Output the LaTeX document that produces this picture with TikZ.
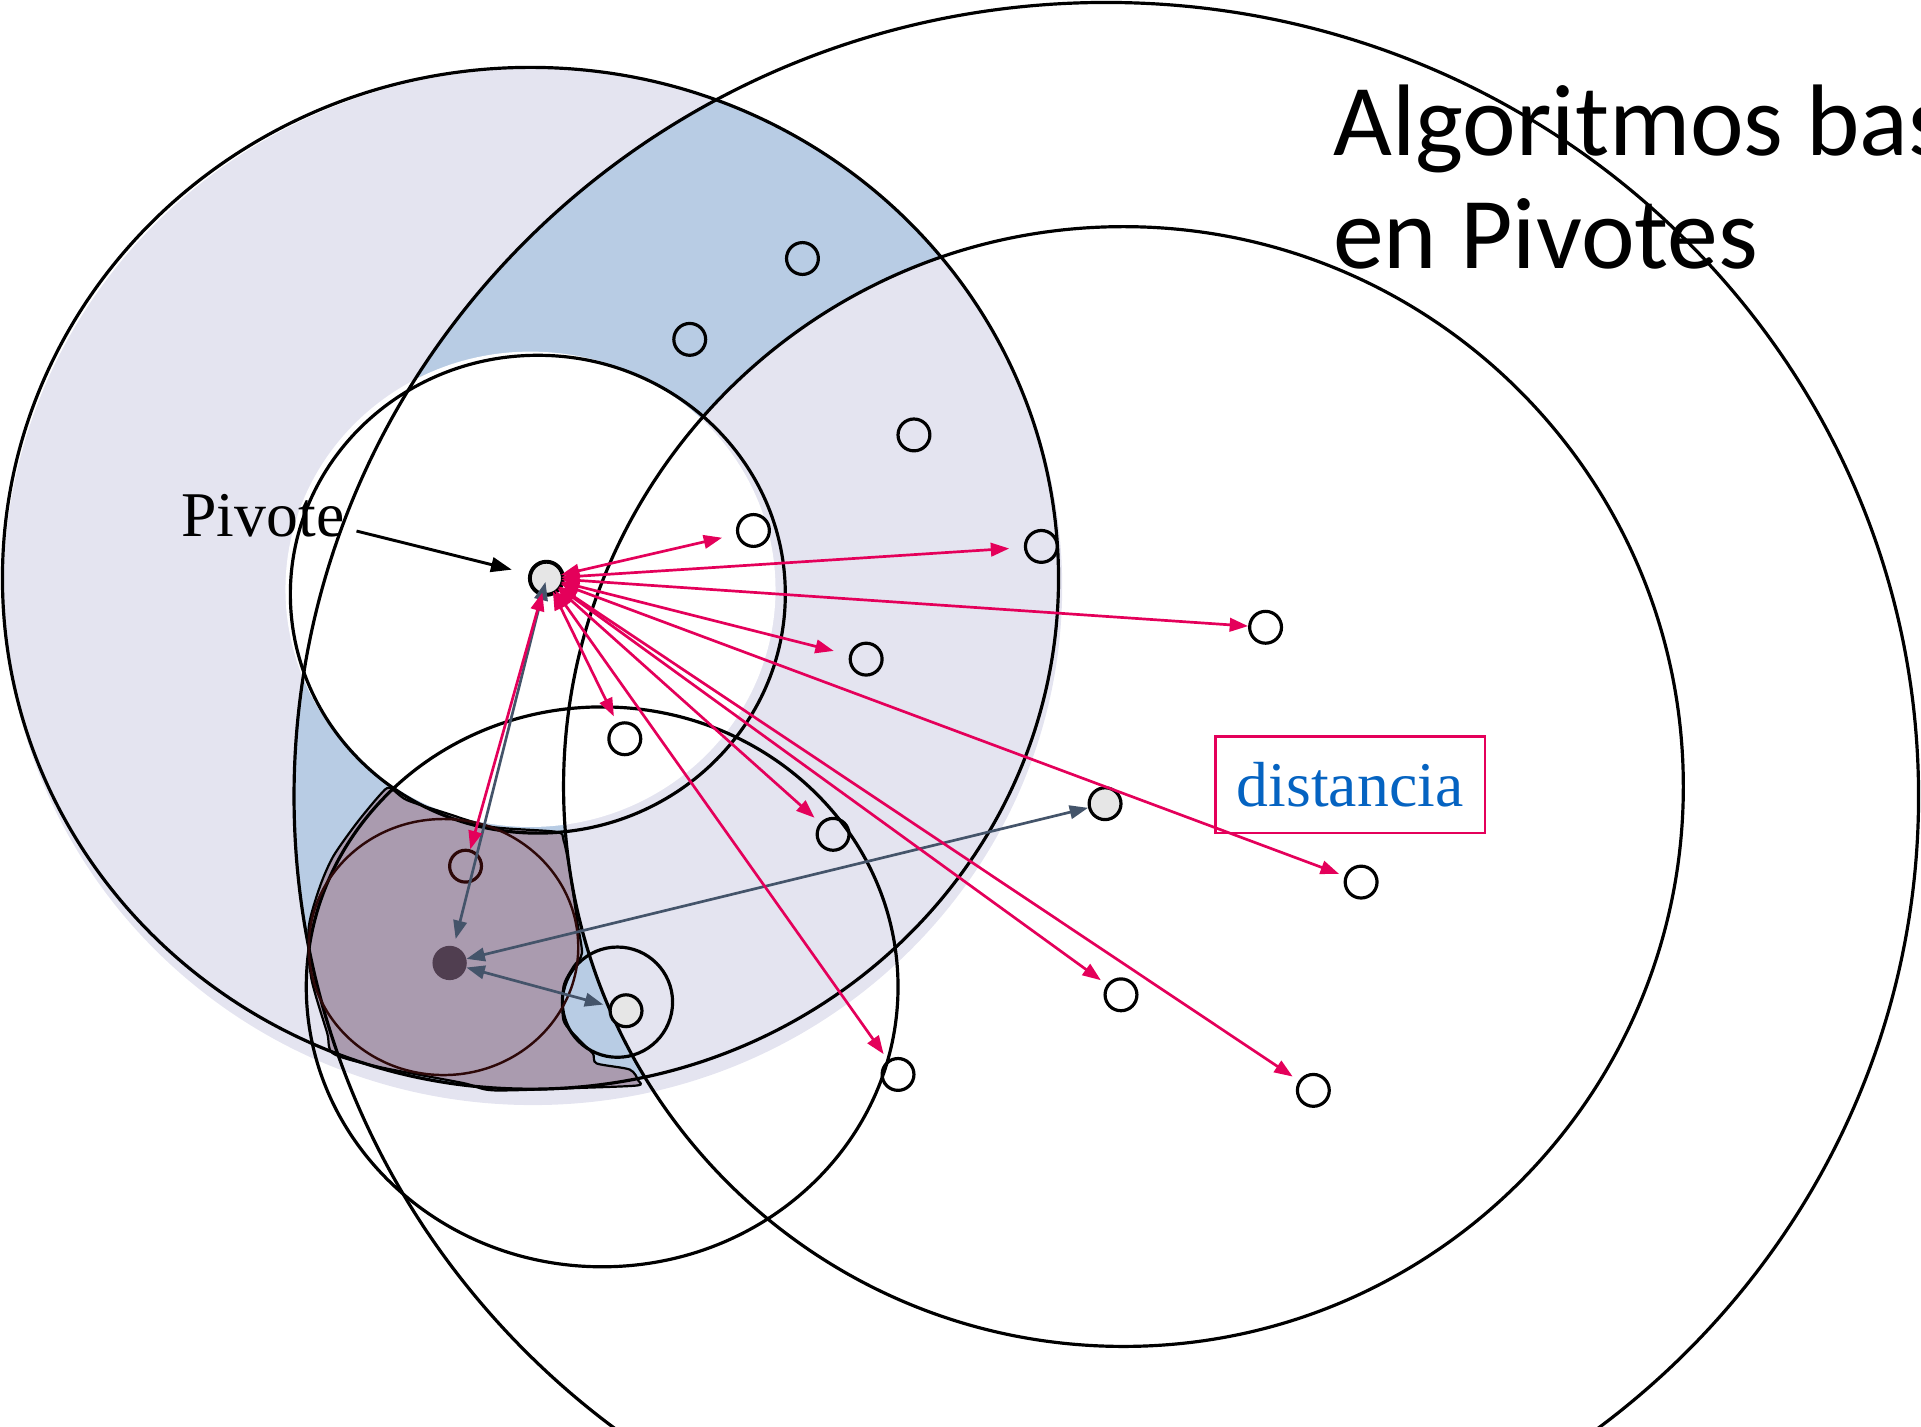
\documentclass[tikz,border=0pt]{standalone}
\usepackage{fontspec}
\setmainfont{Liberation Serif}
\newfontfamily\titlefont{Carlito}
\usetikzlibrary{arrows.meta}
\definecolor{lav}{RGB}{228,228,240}
\definecolor{ringblue}{RGB}{184,204,228}
\definecolor{mauve}{RGB}{170,155,175}
\definecolor{qdark}{RGB}{80,62,80}
\definecolor{crim}{RGB}{228,0,90}
\definecolor{slate}{RGB}{68,84,106}
\definecolor{ptgray}{RGB}{230,230,230}
\definecolor{dbrown}{RGB}{45,8,8}
\definecolor{distblue}{RGB}{5,99,193}
\begin{document}
\begin{tikzpicture}[x=1pt,y=-1pt,
  ring/.style={draw=black, line width=2.6pt},
  pt/.style={circle, draw=black, line width=2.6pt, minimum size=26pt, inner sep=0pt},
  graypt/.style={pt, fill=ptgray},
  redarr/.style={draw=crim, line width=2.2pt, {Triangle[length=15pt,width=11pt]}-{Triangle[length=15pt,width=11pt]}, shorten <=-3pt},
  slatearr/.style={draw=slate, line width=2.2pt, {Triangle[length=15pt,width=11pt]}-{Triangle[length=15pt,width=11pt]}}
]
\useasboundingbox (0,0) rectangle (1568,1164);
\begin{scope}
\clip (0,0) rectangle (1568,1164);
% lavender annulus with shadow
\fill[lav] (435,479) ellipse [x radius=432pt, y radius=423pt];
% blue ring region: inside C1 and outer disk, outside C2
\begin{scope}
  \clip (903,650) ellipse [x radius=663pt, y radius=648pt];
  \clip (433,472) ellipse [x radius=431pt, y radius=417pt];
  \fill[ringblue, even odd rule] (433,472) ellipse [x radius=431pt, y radius=417pt]
        (917,642) circle [radius=457pt];
\end{scope}
% white hole
\fill[white] (433,481) ellipse [x radius=200pt, y radius=194pt];
% mauve query region
\fill[mauve, draw=black, line width=1.8pt] plot[smooth cycle, tension=0.45] coordinates {
 (318,643) (332,653) (365,664) (402,675) (454,679) (460,686) (465,710) (471,751) (475,778)
 (468,789) (460,805) (460,833) (473,849) (484,860) (487,868) (514,873) (521,882) (520,886)
 (473,888) (403,890) (378,884) (310,871) (272,860) (267,843) (254,798) (252,757) (261,724)
 (272,699) (291,672) (310,649)};
% outlines
\draw[ring] (433,472) ellipse [x radius=431pt, y radius=417pt];
\draw[ring] (439,485) ellipse [x radius=202pt, y radius=195pt];
\draw[ring] (903,650) ellipse [x radius=663pt, y radius=648pt];
\draw[ring] (917,642) circle [radius=457pt];
\draw[ring] (491.5,805.5) ellipse [x radius=241.5pt, y radius=228.5pt];
\draw[ring] (504,818) circle [radius=45pt];
\draw[dbrown, line width=2pt] (362,773) ellipse [x radius=110pt, y radius=104.5pt];
% points
\node[pt] (p1) at (655,211) {};
\node[pt] (p2) at (563,277) {};
\node[pt] (p3) at (746,355) {};
\node[pt] (p4) at (615,433) {};
\node[pt] (p5) at (850,446) {};
\node[pt] (p6) at (1033,512) {};
\node[pt] (p7) at (707,538) {};
\node[pt] (p8) at (510,603) {};
\node[pt] (p9) at (680,681) {};
\node[graypt] (p10) at (902,656) {};
\node[pt] (p11) at (1111,720) {};
\node[pt, draw=dbrown] (p12) at (380,707) {};
\node[graypt] (p13) at (511,825) {};
\node[pt] (p14) at (915,812) {};
\node[pt] (p15) at (733,877) {};
\node[pt] (p16) at (1072,890) {};
\node[circle, fill=qdark, minimum size=28pt, inner sep=0pt] (q) at (367,786) {};
\node[graypt, line width=3.2pt, minimum size=27pt] (pv) at (446,472) {};
% slate arrows
\draw[slatearr, shorten <=-12pt, shorten >=6pt] (pv) -- (q);
\draw[slatearr] (q) -- (p10);
\draw[slatearr, shorten >=5pt] (q) -- (p13);
% red arrows
\draw[redarr, shorten >=12pt] (pv) -- (p4);
\draw[redarr, shorten >=12pt] (pv) -- (p5);
\draw[redarr] (pv) -- (p6);
\draw[redarr, shorten >=13pt] (pv) -- (p7);
\draw[redarr, shorten >=6pt] (pv) -- (p8);
\draw[redarr, shorten >=6pt] (pv) -- (p9);
\draw[redarr, shorten >=5pt] (pv) -- (p11);
\draw[redarr] (pv) -- (p12);
\draw[redarr, shorten >=6pt] (pv) -- (p14);
\draw[redarr, shorten >=6pt] (pv) -- (p15);
\draw[redarr, shorten >=6pt] (pv) -- (p16);
% labels
\node[anchor=base west, inner sep=0pt, font=\fontsize{52}{60}\selectfont] (lbl) at (148,438) {Pivote};
\draw[line width=2.4pt, -{Triangle[length=17pt,width=12pt]}, shorten <=10pt, shorten >=14pt] ([yshift=-10pt]lbl.east) -- (pv);
\node[draw=crim, line width=2.2pt, minimum width=220pt, minimum height=79pt, inner sep=0pt,
      text=distblue, font=\fontsize{52}{60}\selectfont] (dist) at (1102,640.5) {distancia};
\node[anchor=base west, inner sep=0pt, font=\titlefont\fontsize{83}{92}\selectfont] (t1) at (1088,127) {Algoritmos bas};
\node[anchor=base west, inner sep=0pt, font=\titlefont\fontsize{83}{92}\selectfont] (t2) at (1088,219) {en Pivotes};
\end{scope}
\end{tikzpicture}
\end{document}
